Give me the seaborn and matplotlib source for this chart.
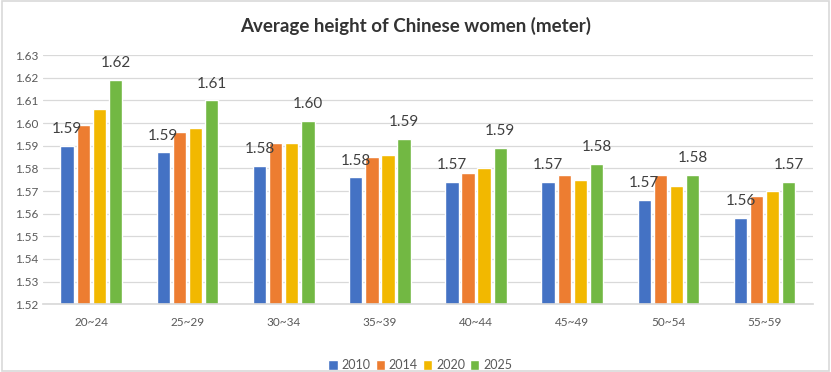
import pandas as pd
import matplotlib.pyplot as plt
import seaborn as sns
from matplotlib.patches import Rectangle

# Age groups and average heights (meter)
age_groups = ['20~24', '25~29', '30~34', '35~39', '40~44', '45~49', '50~54', '55~59']
years = ['2010', '2014', '2020', '2025']
h2010 = [1.590, 1.587, 1.581, 1.576, 1.574, 1.574, 1.566, 1.558]
h2014 = [1.599, 1.596, 1.591, 1.585, 1.578, 1.577, 1.577, 1.568]
h2020 = [1.606, 1.598, 1.591, 1.586, 1.580, 1.575, 1.572, 1.570]
h2025 = [1.619, 1.610, 1.601, 1.593, 1.589, 1.582, 1.577, 1.574]
colors = ['#4472C4', '#ED7D31', '#F2B800', '#72B843']

rows = []
for year, vals in zip(years, [h2010, h2014, h2020, h2025]):
    for age, v in zip(age_groups, vals):
        rows.append({'age': age, 'year': year, 'height': v})
df = pd.DataFrame(rows)

sns.set_theme(style='white')
plt.rcParams['font.family'] = ['Lato', 'DejaVu Sans']

fig = plt.figure(figsize=(8.31, 3.72), dpi=100)
ax = fig.add_axes([0.052, 0.182, 0.926, 0.670])

sns.barplot(data=df, x='age', y='height', hue='year', hue_order=years,
            palette=colors, saturation=1, width=0.67, gap=0.17, ax=ax, legend=True)

ax.set_ylim(1.52, 1.63)
ax.set_yticks([1.52 + 0.01 * i for i in range(12)])
ax.yaxis.set_major_formatter(plt.FormatStrFormatter('%.2f'))
ax.grid(axis='y', color='#D9D9D9', linewidth=0.9)
ax.set_axisbelow(True)
for s in ['top', 'right', 'left']:
    ax.spines[s].set_visible(False)
ax.spines['bottom'].set_color('#D9D9D9')
ax.tick_params(axis='both', length=0, labelsize=8.5, labelcolor='#595959')
ax.tick_params(axis='x', pad=9)
ax.set_xlabel('')
ax.set_ylabel('')

# labels only on 2010 and 2025 bars
for idx in [0, 3]:
    ax.bar_label(ax.containers[idx], fmt='%.2f', padding=7, fontsize=11, color='#404040')

ax.legend(loc='center', bbox_to_anchor=(0.49, -0.245), ncol=4, frameon=False,
          fontsize=9, handlelength=0.75, handleheight=0.75, handletextpad=0.3,
          columnspacing=0.4, labelcolor='#595959')

fig.suptitle('Average height of Chinese women (meter)', x=0.5, y=0.955,
             fontsize=13.5, fontweight='bold', color='#333333')

fig.patches.append(Rectangle((0.002, 0.003), 0.995, 0.993, transform=fig.transFigure,
                             fill=False, edgecolor='#D9D9D9', linewidth=1.2))

fig.savefig('out.png', dpi=100)
